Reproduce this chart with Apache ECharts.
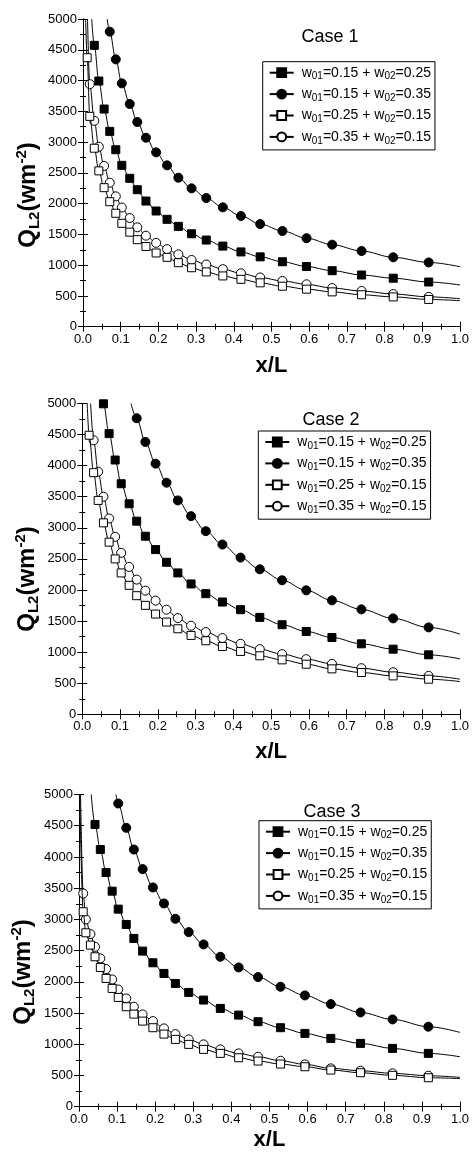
<!DOCTYPE html>
<html><head><meta charset="utf-8">
<script src="https://cdn.jsdelivr.net/npm/echarts@6/dist/echarts.min.js"></script>
<style>html,body{margin:0;padding:0;background:#fff}#c{width:472px;height:1155px}</style>
</head><body><div id="c"></div>
<script>
// ---- data ----
const seriesNames = ['w01=0.15 + w02=0.25', 'w01=0.15 + w02=0.35', 'w01=0.25 + w02=0.15', 'w01=0.35 + w02=0.15'];
const caseLabels = ['Case 1', 'Case 2', 'Case 3'];
// x/L positions of the markers (shared mesh)
const xMesh = [0.011, 0.018, 0.030, 0.042, 0.056, 0.071, 0.087, 0.103, 0.124, 0.144, 0.167, 0.194, 0.223, 0.253, 0.288, 0.327, 0.371, 0.419, 0.470, 0.529, 0.593, 0.661, 0.739, 0.823, 0.917];
const N = null;
// Case 1
const case1_a = [N, N, 4572, 3992, 3537, 3174, 2876, 2622, 2411, 2226, 2042, 1880, 1745, 1630, 1510, 1408, 1310, 1215, 1135, 1055, 978, 910, 840, 788, 726];
const case1_b = [N, N, N, N, N, 4794, 4344, 3954, 3619, 3326, 3071, 2833, 2622, 2421, 2248, 2091, 1939, 1799, 1668, 1555, 1438, 1333, 1230, 1128, 1044];
const case1_c = [4371, 3418, 2900, 2532, 2259, 2031, 1843, 1680, 1536, 1414, 1303, 1198, 1127, 1040, 958, 890, 825, 770, 713, 658, 610, 566, 519, 484, 443];
const case1_d = [N, 3941, 3345, 2925, 2613, 2340, 2118, 1937, 1766, 1615, 1479, 1362, 1260, 1176, 1084, 1010, 935, 868, 800, 743, 689, 628, 580, 531, 485];
const case1_topX = [0.023, 0.064, 0.007, 0.012];   // x/L where each curve leaves the top (Q=5000)
const case1_endQ = [678, 975, 423, 455];           // Q at x/L = 1
// Case 2
const case2_a = [N, N, N, N, 4995, 4516, 4091, 3709, 3387, 3107, 2865, 2650, 2446, 2274, 2097, 1941, 1806, 1683, 1559, 1441, 1333, 1236, 1134, 1048, 957];
const case2_b = [N, N, N, N, N, N, N, N, N, 4763, 4381, 4032, 3726, 3441, 3188, 2946, 2731, 2521, 2333, 2156, 1994, 1833, 1688, 1543, 1398];
const case2_c = [N, 4489, 3887, 3441, 3080, 2769, 2500, 2274, 2075, 1908, 1753, 1613, 1484, 1376, 1269, 1183, 1091, 1011, 941, 876, 806, 731, 672, 618, 565];
const case2_d = [N, N, 4408, 3903, 3500, 3150, 2855, 2597, 2371, 2167, 1989, 1828, 1683, 1548, 1425, 1323, 1226, 1134, 1048, 968, 887, 812, 742, 677, 618];
const case2_topX = [0.054, 0.129, 0.013, 0.022];
const case2_endQ = [892, 1290, 527, 565];
// Case 3
const case3_a = [N, N, N, 4520, 4119, 3751, 3452, 3164, 2919, 2695, 2492, 2305, 2134, 1974, 1830, 1708, 1574, 1467, 1361, 1265, 1174, 1094, 1014, 934, 854];
const case3_b = [N, N, N, N, N, N, N, 4856, 4466, 4119, 3805, 3511, 3255, 3009, 2796, 2599, 2401, 2230, 2076, 1921, 1782, 1643, 1510, 1398, 1281];
const case3_c = [3122, 2785, 2588, 2401, 2230, 2054, 1894, 1750, 1601, 1483, 1371, 1265, 1163, 1078, 998, 918, 854, 784, 731, 683, 640, 587, 544, 502, 464];
const case3_d = [3415, 2999, 2764, 2561, 2375, 2204, 2038, 1878, 1734, 1601, 1478, 1371, 1254, 1163, 1078, 998, 918, 854, 800, 736, 678, 614, 576, 534, 496];
const case3_topX = [0.032, 0.097, 0.002, 0.004];
const case3_endQ = [800, 1190, 450, 470];

const panels = [
  {vals: [case1_a, case1_b, case1_c, case1_d], topX: case1_topX, endQ: case1_endQ},
  {vals: [case2_a, case2_b, case2_c, case2_d], topX: case2_topX, endQ: case2_endQ},
  {vals: [case3_a, case3_b, case3_c, case3_d], topX: case3_topX, endQ: case3_endQ}
];

// ---- layout & style ----
const F = 'Liberation Sans, Arial, sans-serif';
const grids = [
  {left: 83, top: 19, width: 380.3, height: 307.7},
  {left: 82.3, top: 403.5, width: 383.4, height: 310.8},
  {left: 79, top: 794.5, width: 390, height: 312.2}
];
const nameGaps = [28, 26.5, 22.5];
const casePos = [[330, 36.7], [331, 420], [332, 812.3]];
const yLabelPos = [[28, 195], [27, 579], [23, 972]];
const legendPos = [[262.7, 61.7], [258.3, 431], [259, 820.7]];
const symbols = [
  {symbol: 'rect', size: 8, fill: '#000'},
  {symbol: 'circle', size: 9, fill: '#000'},
  {symbol: 'rect', size: 8, fill: '#fff'},
  {symbol: 'circle', size: 9, fill: '#fff'}
];

const axisLine = {show: true, lineStyle: {color: '#000', width: 1}};
function xAx(gi, bottom) {
  return {
    type: 'value', gridIndex: gi, min: 0, max: 1, interval: 0.1,
    position: bottom ? 'bottom' : 'top',
    axisLine: axisLine,
    axisTick: {show: true, inside: true, length: 5, lineStyle: {color: '#000'}},
    minorTick: {show: true, splitNumber: 2, length: 3, lineStyle: {color: '#000'}},
    splitLine: {show: false}, minorSplitLine: {show: false},
    axisLabel: bottom ? {show: true, color: '#000', fontSize: 13, fontFamily: F, margin: 6,
      formatter: v => v.toFixed(1)} : {show: false},
    name: bottom ? 'x/L' : '', nameLocation: 'middle', nameGap: nameGaps[gi],
    nameTextStyle: {fontSize: 22, fontWeight: 'bold', fontFamily: F, color: '#000'}
  };
}
function yAx(gi, left) {
  return {
    type: 'value', gridIndex: gi, min: 0, max: 5000, interval: 500,
    position: left ? 'left' : 'right',
    axisLine: axisLine,
    axisTick: {show: true, inside: true, length: 5, lineStyle: {color: '#000'}},
    minorTick: {show: true, splitNumber: 2, length: 3, lineStyle: {color: '#000'}},
    splitLine: {show: false}, minorSplitLine: {show: false},
    axisLabel: left ? {show: true, color: '#000', fontSize: 13, fontFamily: F, margin: 6,
      formatter: v => String(Math.round(v))} : {show: false}
  };
}

const xAxes = [], yAxes = [], series = [], legends = [], graphics = [];
grids.forEach((g, gi) => {
  xAxes.push(xAx(gi, true), xAx(gi, false));
  yAxes.push(yAx(gi, true), yAx(gi, false));
  const p = panels[gi];
  p.vals.forEach((arr, si) => {
    const data = [];
    const firstIdx = arr.findIndex(v => v != null);
    if (arr[firstIdx] < 5000) data.push({value: [p.topX[si], 5000], symbol: 'none'});
    arr.forEach((v, i) => { if (v != null) data.push([xMesh[i], v]); });
    data.push({value: [1, p.endQ[si]], symbol: 'none'});
    const s = symbols[si];
    series.push({
      type: 'line', name: seriesNames[si], xAxisIndex: gi * 2, yAxisIndex: gi * 2,
      data: data, smooth: 0.35, smoothMonotone: 'x',
      symbol: s.symbol, symbolSize: s.size, showAllSymbol: true,
      lineStyle: {color: '#000', width: 1},
      itemStyle: {color: s.fill, borderColor: '#000', borderWidth: 1},
      emphasis: {disabled: true}, z: 2 + (3 - si)
    });
  });
  legends.push({
    left: legendPos[gi][0], top: legendPos[gi][1], orient: 'vertical',
    data: seriesNames, selectedMode: false,
    borderColor: '#000', borderWidth: 1, padding: [2, 4, 4, 6],
    itemGap: 3.4, itemWidth: 24, itemHeight: 11,
    formatter: n => n.replace(/w0(\d)/g, 'w{s|0$1}'),
    textStyle: {fontSize: 14, fontFamily: F, color: '#000', lineHeight: 18, padding: [0, 0, 0, 3],
      rich: {s: {fontSize: 10, fontFamily: F, color: '#000', lineHeight: 10, verticalAlign: 'bottom'}}}
  });
  graphics.push({
    type: 'text', x: casePos[gi][0], y: casePos[gi][1],
    style: {text: caseLabels[gi], fontSize: 18, fontFamily: F, fill: '#000', align: 'center', verticalAlign: 'middle'}
  });
  graphics.push({
    type: 'text', x: yLabelPos[gi][0], y: yLabelPos[gi][1], rotation: Math.PI / 2,
    style: {
      text: '{m|Q}{b|L2}{m|(wm}{t|-2}{m|)}', align: 'center', verticalAlign: 'middle', fill: '#000',
      rich: {
        m: {fontSize: 24, fontWeight: 'bold', fontFamily: F, lineHeight: 28, fill: '#000'},
        b: {fontSize: 15, fontWeight: 'bold', fontFamily: F, verticalAlign: 'bottom', fill: '#000'},
        t: {fontSize: 15, fontWeight: 'bold', fontFamily: F, verticalAlign: 'top', fill: '#000'}
      }
    }
  });
});

const chart = echarts.init(document.getElementById('c'), null, {renderer: 'canvas'});
chart.setOption({
  animation: false,
  backgroundColor: '#fff',
  grid: grids.map(g => Object.assign({containLabel: false}, g)),
  xAxis: xAxes, yAxis: yAxes,
  legend: legends,
  series: series,
  graphic: graphics
});
</script></body></html>
